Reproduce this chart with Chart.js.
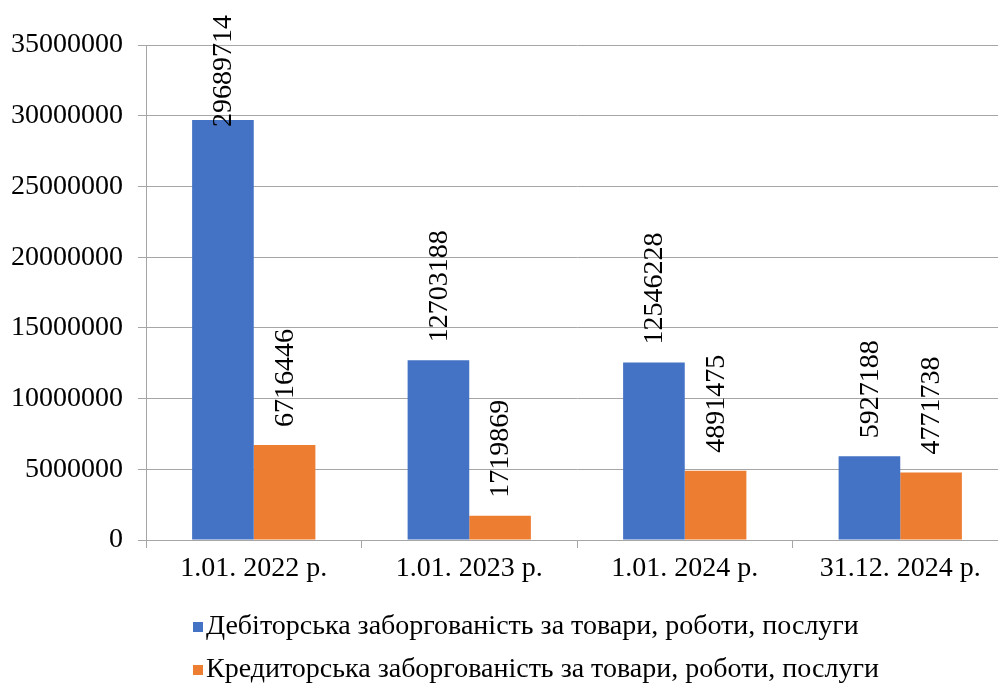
<!DOCTYPE html>
<html>
<head>
<meta charset="utf-8">
<script src="https://cdn.jsdelivr.net/npm/chart.js@4/dist/chart.umd.min.js"></script>
<style>
  html, body { margin: 0; padding: 0; background: #fff; overflow: hidden; }
  #wrap { width: 998px; height: 686px; position: relative; overflow: hidden; }
  #c { display: block; }
</style>
</head>
<body>
<div id="wrap"><canvas id="c" width="1008" height="686"></canvas></div>
<script>
// Receivables and payables for goods, works and services
const categories = ['1.01. 2022 р.', '1.01. 2023 р.', '1.01. 2024 р.', '31.12. 2024 р.'];
const receivables = [29689714, 12703188, 12546228, 5927188];
const payables = [6716446, 1719869, 4891475, 4771738];
const seriesNames = [
  'Дебіторська заборгованість за товари, роботи, послуги',
  'Кредиторська заборгованість за товари, роботи, послуги'
];
const yTicks = [0, 5000000, 10000000, 15000000, 20000000, 25000000, 30000000, 35000000];

const FONT = '"Liberation Serif", "Times New Roman", serif';
const GRID = '#a6a6a6';

// Vertical value labels above each bar, kept inside the canvas top
const barValueLabels = {
  id: 'barValueLabels',
  afterDatasetsDraw(chart) {
    const ctx = chart.ctx;
    ctx.save();
    ctx.font = '28px ' + FONT;
    ctx.fillStyle = '#000';
    ctx.textAlign = 'left';
    ctx.textBaseline = 'middle';
    chart.data.datasets.forEach((ds, i) => {
      const meta = chart.getDatasetMeta(i);
      meta.data.forEach((bar, j) => {
        const text = String(ds.data[j]);
        const w = ctx.measureText(text).width;
        let base = bar.y - 18;
        if (base - w < 15) base = 15 + w;
        ctx.save();
        ctx.translate(bar.x, base);
        ctx.rotate(-Math.PI / 2);
        ctx.fillText(text, 0, 1);
        ctx.restore();
      });
    });
    ctx.restore();
  }
};

// Stacked legend rows under the axis
const stackedLegend = {
  id: 'stackedLegend',
  afterDraw(chart) {
    const ctx = chart.ctx;
    ctx.save();
    ctx.font = '28px ' + FONT;
    ctx.textBaseline = 'middle';
    ctx.textAlign = 'left';
    const rows = [627, 670];
    chart.data.datasets.forEach((ds, i) => {
      const y = rows[i];
      ctx.fillStyle = ds.backgroundColor;
      ctx.fillRect(193, y - 5, 10, 10);
      ctx.fillStyle = '#000';
      ctx.fillText(ds.label, 206, y);
    });
    ctx.restore();
  }
};

new Chart(document.getElementById('c'), {
  type: 'bar',
  data: {
    labels: categories,
    datasets: [
      { label: seriesNames[0], data: receivables, backgroundColor: '#4472C4' },
      { label: seriesNames[1], data: payables, backgroundColor: '#ED7D31' }
    ]
  },
  options: {
    responsive: false,
    animation: false,
    devicePixelRatio: 1,
    layout: { padding: { top: 45, right: 0, bottom: 86, left: 0 } },
    datasets: { bar: { categoryPercentage: 0.572, barPercentage: 1.0, borderWidth: 0 } },
    plugins: {
      legend: { display: false },
      tooltip: { enabled: false }
    },
    scales: {
      x: {
        afterFit(scale) { scale.height = 60; },
        grid: {
          display: true,
          drawOnChartArea: false,
          drawTicks: true,
          tickLength: 8,
          color: GRID,
          offset: true
        },
        border: { display: true, color: GRID, width: 1 },
        ticks: {
          color: '#000',
          font: { family: FONT, size: 28 },
          padding: 4,
          maxRotation: 0,
          autoSkip: false
        }
      },
      y: {
        min: 0,
        max: 35000000,
        afterFit(scale) { scale.width = 146; },
        afterBuildTicks(scale) { scale.ticks = yTicks.map(v => ({ value: v })); },
        grid: { color: GRID, lineWidth: 1, tickLength: 8 },
        border: { display: true, color: GRID, width: 1 },
        ticks: {
          color: '#000',
          font: { family: FONT, size: 28 },
          padding: 15,
          callback: v => String(v)
        }
      }
    }
  },
  plugins: [barValueLabels, stackedLegend]
});
</script>
</body>
</html>
